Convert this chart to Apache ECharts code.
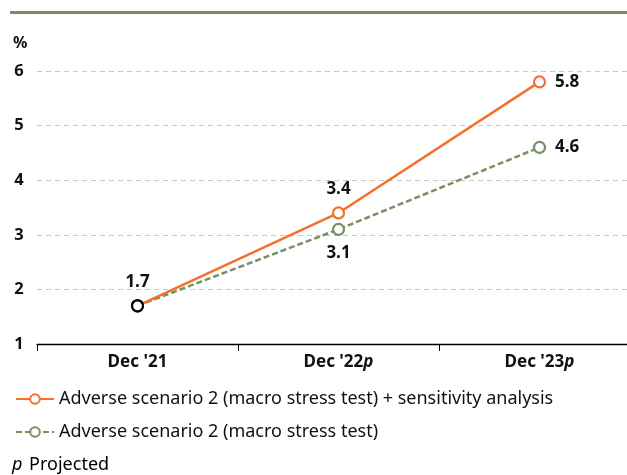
<!DOCTYPE html>
<html>
<head>
<meta charset="utf-8">
<script src="https://cdn.jsdelivr.net/npm/echarts@6/dist/echarts.min.js"></script>
<style>
  html, body { margin: 0; padding: 0; background: #fff; }
  #chart { width: 627px; height: 475px; }
</style>
</head>
<body>
<div id="chart"></div>
<script>
// Periods on the horizontal axis ("p" = projected)
const categories = ["Dec '21", "Dec '22p", "Dec '23p"];
// Series values, in per cent
const sensitivityValues = [1.7, 3.4, 5.8];
const macroValues = [1.7, 3.1, 4.6];
const seriesNames = [
  'Adverse scenario 2 (macro stress test) + sensitivity analysis',
  'Adverse scenario 2 (macro stress test)'
];
const yTicks = [1, 2, 3, 4, 5, 6];

const ORANGE = '#f4702b';
const GREEN = '#789160';
const FONT = '"Noto Sans", "Open Sans", sans-serif';

const chart = echarts.init(document.getElementById('chart'), null, { renderer: 'canvas' });

// First point is the shared historical observation, drawn in black
function points(values, labelPos) {
  return values.map((v, i) => {
    const p = { value: v };
    if (i === 0) {
      p.itemStyle = { borderColor: '#000' };
    }
    p.label = { position: labelPos[i] };
    return p;
  });
}

const catLabel = (v) => {
  const m = v.match(/^(.*?)(p?)$/);
  return m[2] ? '{b|' + m[1] + '}{i|p}' : '{b|' + m[1] + '}';
};

chart.setOption({
  animation: false,
  textStyle: { fontFamily: FONT },
  // plot area runs slightly past the right edge of the canvas
  grid: { left: 37, width: 603, top: 71, height: 273, containLabel: false, outerBoundsMode: 'none' },
  legend: {
    orient: 'vertical',
    left: 10,
    top: 385,
    itemWidth: 38,
    itemHeight: 12,
    itemGap: 15,
    textStyle: { fontFamily: FONT, fontSize: 18, color: '#111' },
    data: seriesNames
  },
  xAxis: {
    type: 'category',
    data: categories,
    boundaryGap: true,
    axisLine: { lineStyle: { color: '#000', width: 1.3 } },
    axisTick: { show: true, length: 7, lineStyle: { color: '#000' } },
    axisLabel: {
      margin: 10,
      formatter: catLabel,
      rich: {
        b: { fontFamily: FONT, fontSize: 17, fontWeight: 'bold', color: '#111' },
        i: { fontFamily: FONT, fontSize: 17, fontWeight: 'bold', fontStyle: 'italic', color: '#111' }
      }
    }
  },
  yAxis: {
    type: 'value',
    min: yTicks[0],
    max: yTicks[yTicks.length - 1],
    interval: 1,
    axisLine: { show: false },
    axisTick: { show: false },
    axisLabel: {
      margin: 18,
      align: 'center',
      fontFamily: FONT, fontSize: 16.5, fontWeight: 'bold', color: '#111'
    },
    splitLine: { lineStyle: { color: '#c8c8c8', type: [5, 4], width: 1 } }
  },
  series: [
    {
      name: seriesNames[1],
      type: 'line',
      data: points(macroValues, ['top', 'bottom', 'right']),
      symbol: 'circle',
      symbolSize: 11,
      lineStyle: { color: GREEN, width: 2.5, type: [6, 3] },
      itemStyle: { color: '#fff', borderColor: GREEN, borderWidth: 2.2 },
      label: {
        show: true, distance: 9, fontFamily: FONT, fontSize: 17, fontWeight: 'bold', color: '#111',
        formatter: (p) => p.dataIndex === 0 ? '' : p.value.toFixed(1)
      },
      z: 2
    },
    {
      name: seriesNames[0],
      type: 'line',
      data: points(sensitivityValues, ['top', 'top', 'right']),
      symbol: 'circle',
      symbolSize: 11,
      lineStyle: { color: ORANGE, width: 2.5 },
      itemStyle: { color: '#fff', borderColor: ORANGE, borderWidth: 2.2 },
      label: {
        show: true, distance: 9, fontFamily: FONT, fontSize: 17, fontWeight: 'bold', color: '#111',
        formatter: (p) => p.value.toFixed(1)
      },
      z: 3
    }
  ],
  graphic: [
    {
      type: 'rect',
      shape: { x: 10, y: 11, width: 620, height: 3 },
      style: { fill: '#7d8b63' },
      silent: true
    },
    {
      type: 'text',
      left: 13, top: 35,
      style: { text: '%', font: 'bold 16px ' + FONT, fill: '#111' }
    },
    {
      type: 'text',
      left: 12, top: 456,
      style: {
        text: '{i|p}  {n|Projected}',
        rich: {
          i: { fontFamily: FONT, fontSize: 18, fontStyle: 'italic', color: '#111' },
          n: { fontFamily: FONT, fontSize: 18, color: '#111' }
        }
      }
    }
  ]
});
</script>
</body>
</html>
